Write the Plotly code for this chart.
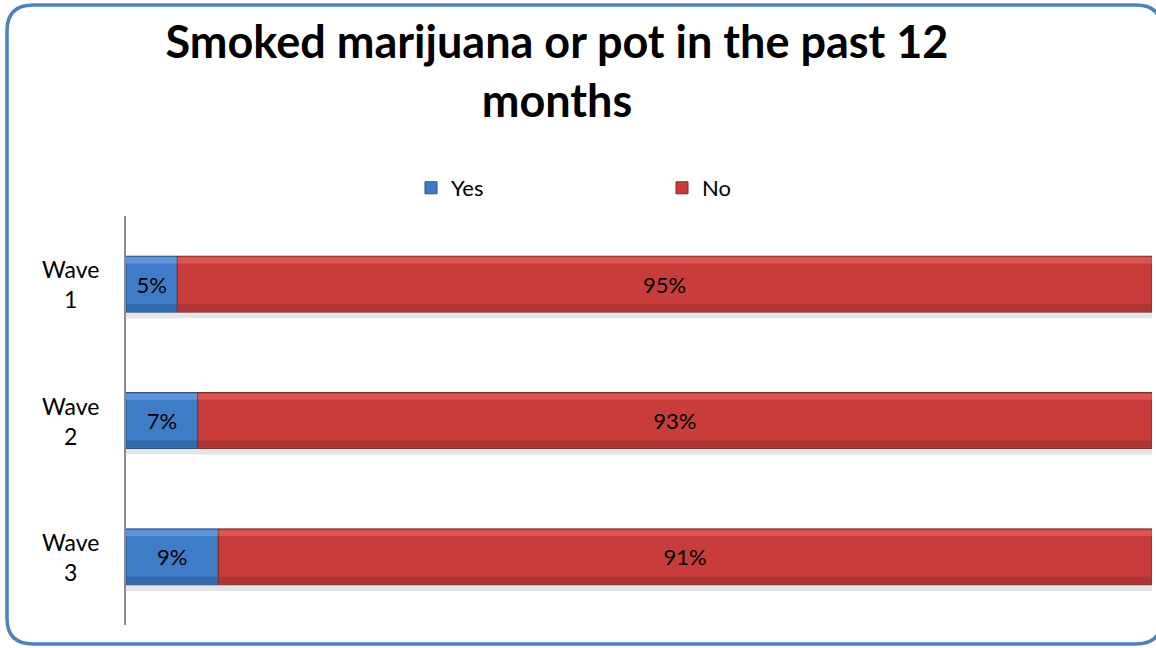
import plotly.graph_objects as go

# Survey waves and the share of respondents answering Yes / No
waves = ["Wave<br>1", "Wave<br>2", "Wave<br>3"]
yes_pct = [5, 7, 9]
no_pct = [95, 93, 91]

W, H = 1156, 648
ML, MR, MT, MB = 126, 4, 216, 23
PW, PH = W - ML - MR, H - MT - MB

BAR_W = 0.41
FONT = "Lato"

fig = go.Figure()

series = [
    ("Yes", yes_pct, [0] * len(waves), "#3f7cc8", "#7aaceb", "#2c5a96", "#2a4f80"),
    ("No", no_pct, yes_pct, "#c83d3b", "#ec6a68", "#98302e", "#7e2a29"),
]

# soft drop shadow under each full bar
fig.add_trace(go.Bar(
    y=waves, x=[y + n for y, n in zip(yes_pct, no_pct)], base=[0] * len(waves),
    orientation="h", width=0.045, offset=BAR_W / 2,
    marker=dict(color="rgba(0,0,0,0.10)", line=dict(width=0)),
    showlegend=False, hoverinfo="skip",
))

for name, vals, base, mid, light, dark, edge in series:
    fig.add_trace(go.Bar(
        y=waves, x=vals, base=base, name=name, orientation="h",
        width=BAR_W, offset=-BAR_W / 2,
        marker=dict(color=mid, line=dict(color=edge, width=1)),
        text=[f"{v}%" for v in vals], textposition="inside",
        insidetextanchor="middle", constraintext="none",
        textfont=dict(family=FONT, size=22, color="#000000"),
        hoverinfo="skip",
    ))
    # bevel highlight along the top edge
    fig.add_trace(go.Bar(
        y=waves, x=vals, base=base, orientation="h",
        width=0.045, offset=-BAR_W / 2 + 0.008,
        marker=dict(color=light, opacity=0.55, line=dict(width=0)),
        showlegend=False, hoverinfo="skip",
    ))
    # bevel shade along the bottom edge
    fig.add_trace(go.Bar(
        y=waves, x=vals, base=base, orientation="h",
        width=0.05, offset=BAR_W / 2 - 0.058,
        marker=dict(color=dark, opacity=0.55, line=dict(width=0)),
        showlegend=False, hoverinfo="skip",
    ))


def px_x(p):
    return (p - ML) / PW


def px_y(p):
    return (H - MB - p) / PH


# category labels, centred under each other left of the axis
for w in waves:
    fig.add_annotation(
        x=px_x(70), xref="paper", y=w, yref="y", text=w, showarrow=False,
        xanchor="center", yanchor="middle", align="center",
        font=dict(family=FONT, size=23, color="#000000"),
    )

# rounded outer frame
x0, x1, y0, y1, r = 7, 1162, 5, 644, 26
path = (
    f"M {px_x(x0 + r)},{px_y(y0)} L {px_x(x1 - r)},{px_y(y0)} "
    f"Q {px_x(x1)},{px_y(y0)} {px_x(x1)},{px_y(y0 + r)} "
    f"L {px_x(x1)},{px_y(y1 - r)} Q {px_x(x1)},{px_y(y1)} {px_x(x1 - r)},{px_y(y1)} "
    f"L {px_x(x0 + r)},{px_y(y1)} Q {px_x(x0)},{px_y(y1)} {px_x(x0)},{px_y(y1 - r)} "
    f"L {px_x(x0)},{px_y(y0 + r)} Q {px_x(x0)},{px_y(y0)} {px_x(x0 + r)},{px_y(y0)} Z"
)
fig.add_shape(type="path", path=path, xref="paper", yref="paper",
              line=dict(color="#4f81bd", width=3.5), layer="above")

fig.update_layout(
    width=W, height=H,
    margin=dict(l=ML, r=MR, t=MT, b=MB, pad=0),
    paper_bgcolor="#ffffff", plot_bgcolor="#ffffff",
    barmode="overlay",
    title=dict(
        text="<b>Smoked marijuana or pot in the past 12<br>months</b>",
        x=557 / W, xanchor="center", xref="container",
        y=1 - 58 / H, yanchor="middle", yref="container",
        font=dict(family=FONT, size=45, color="#000000"),
    ),
    legend=dict(
        orientation="h", xref="container", yref="container",
        x=411 / W, xanchor="left", y=1 - 188 / H, yanchor="middle",
        font=dict(family=FONT, size=22, color="#000000"),
        entrywidth=206, entrywidthmode="pixels",
        traceorder="normal", itemclick=False,
    ),
    xaxis=dict(range=[0, 100], visible=False, fixedrange=True),
    yaxis=dict(
        autorange="reversed", showline=True, linecolor="#8c8c8c", linewidth=1.5,
        ticks="", showgrid=False, zeroline=False, showticklabels=False,
        fixedrange=True,
    ),
    showlegend=True,
    font=dict(family=FONT),
)

fig.write_html("out.html")
